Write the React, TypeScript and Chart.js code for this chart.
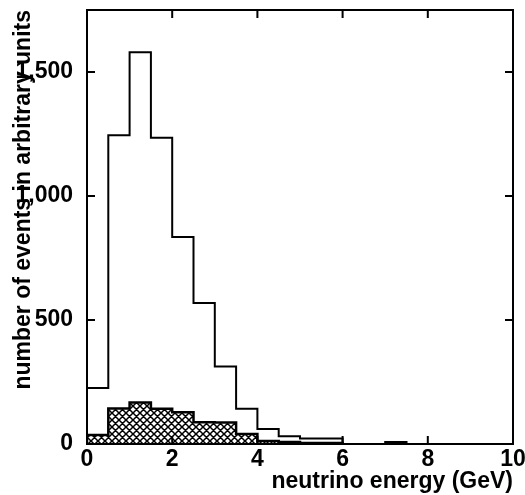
import React, { useEffect, useRef } from "react";
import { Chart, registerables } from "chart.js";
Chart.register(...registerables);

const binWidth = 0.5;
// all events, 0.5 GeV bins starting at 0
const mainCounts = [226, 1245, 1580, 1235, 835, 569, 312, 142, 60, 31, 22, 22, 0, 0, 8];
// hatched sub-sample, 0.5 GeV bins starting at 0
const hatchedCounts = [36, 143, 167, 142, 128, 88, 87, 40, 12, 8, 4, 4];
const xTicks = [0, 2, 4, 6, 8, 10];
const yTicks = [0, 500, 1000, 1500];
const xTitle = "neutrino energy (GeV)";
const yTitle = "number of events in arbitrary units";

function stepPoints(counts: number[]) {
  const pts: { x: number; y: number }[] = [{ x: 0, y: 0 }];
  counts.forEach((c, i) => pts.push({ x: i * binWidth, y: c }));
  const end = counts.length * binWidth;
  pts.push({ x: end, y: counts[counts.length - 1] });
  pts.push({ x: end, y: 0 });
  return pts;
}

function makeHatch() {
  const s = 7;
  const c = document.createElement("canvas");
  c.width = s;
  c.height = s;
  const g = c.getContext("2d")!;
  g.fillStyle = "#fff";
  g.fillRect(0, 0, s, s);
  g.strokeStyle = "#000";
  g.lineWidth = 1.5;
  g.beginPath();
  for (const d of [-s, 0, s]) {
    g.moveTo(d - 1, -1);
    g.lineTo(d + s + 1, s + 1);
    g.moveTo(d - 1, s + 1);
    g.lineTo(d + s + 1, -1);
  }
  g.stroke();
  return g.createPattern(c, "repeat");
}

const framePlugin = {
  id: "frame",
  afterDatasetsDraw(chart: any) {
    const { ctx, chartArea, scales } = chart;
    const { left, right, top, bottom } = chartArea;
    const x = scales.x;
    const y = scales.y;
    ctx.save();
    ctx.strokeStyle = "#000";
    ctx.lineWidth = 2;
    ctx.strokeRect(left, top, right - left, bottom - top);
    const len = 8;
    ctx.beginPath();
    xTicks.forEach((v) => {
      if (v <= x.min || v >= x.max) return;
      const px = x.getPixelForValue(v);
      ctx.moveTo(px, bottom);
      ctx.lineTo(px, bottom - len);
      ctx.moveTo(px, top);
      ctx.lineTo(px, top + len);
    });
    yTicks.forEach((v) => {
      if (v <= y.min || v >= y.max) return;
      const py = y.getPixelForValue(v);
      ctx.moveTo(left, py);
      ctx.lineTo(left + len, py);
      ctx.moveTo(right, py);
      ctx.lineTo(right - len, py);
    });
    ctx.stroke();
    ctx.restore();
  },
};

const tickFont = { family: "'Liberation Sans Narrow', 'Liberation Sans', Arial, sans-serif", size: 23, weight: "bold" as const };
const titleFont = { family: "'Liberation Sans', Arial, sans-serif", size: 23, weight: "bold" as const };

export default function App() {
  const ref = useRef<HTMLCanvasElement>(null);
  useEffect(() => {
    const chart = new Chart(ref.current!, {
      type: "line",
      data: {
        datasets: [
          {
            data: stepPoints(hatchedCounts),
            stepped: "before",
            borderColor: "#000",
            borderWidth: 2.5,
            backgroundColor: makeHatch() as any,
            fill: "origin",
            pointRadius: 0,
          },
          {
            data: stepPoints(mainCounts),
            stepped: "before",
            borderColor: "#000",
            borderWidth: 2,
            fill: false,
            pointRadius: 0,
          },
        ],
      },
      options: {
        animation: false,
        responsive: false,
        layout: { padding: { top: 10, right: 12, left: 0, bottom: 0 } },
        plugins: { legend: { display: false }, tooltip: { enabled: false } },
        scales: {
          x: {
            type: "linear",
            min: 0,
            max: 10,
            afterBuildTicks: (s: any) => {
              s.ticks = xTicks.map((v) => ({ value: v }));
            },
            ticks: { font: tickFont, color: "#000", padding: 2, maxRotation: 0, autoSkip: false },
            grid: { display: false, drawTicks: false },
            border: { display: false },
            title: { display: true, text: xTitle, align: "end", font: titleFont, color: "#000", padding: { top: 0, bottom: 0 } },
            afterFit: (s: any) => {
              s.height = 51;
              s.paddingLeft = 0;
              s.paddingRight = 0;
            },
          },
          y: {
            type: "linear",
            min: 0,
            max: 1750,
            afterBuildTicks: (s: any) => {
              s.ticks = yTicks.map((v) => ({ value: v }));
            },
            ticks: { font: tickFont, color: "#000", padding: 14 },
            grid: { display: false, drawTicks: false },
            border: { display: false },
            title: { display: true, text: yTitle, align: "end", font: titleFont, color: "#000", padding: { top: 10, bottom: 0 } },
            afterFit: (s: any) => {
              s.width = 87;
              s.paddingTop = 0;
              s.paddingBottom = 0;
            },
          },
        },
      },
      plugins: [framePlugin],
    });
    return () => chart.destroy();
  }, []);
  return (
    <div style={{ position: "fixed", left: 0, top: 0, width: 525, height: 495, background: "#fff" }}>
      <canvas ref={ref} width={525} height={495} style={{ display: "block" }} />
    </div>
  );
}
